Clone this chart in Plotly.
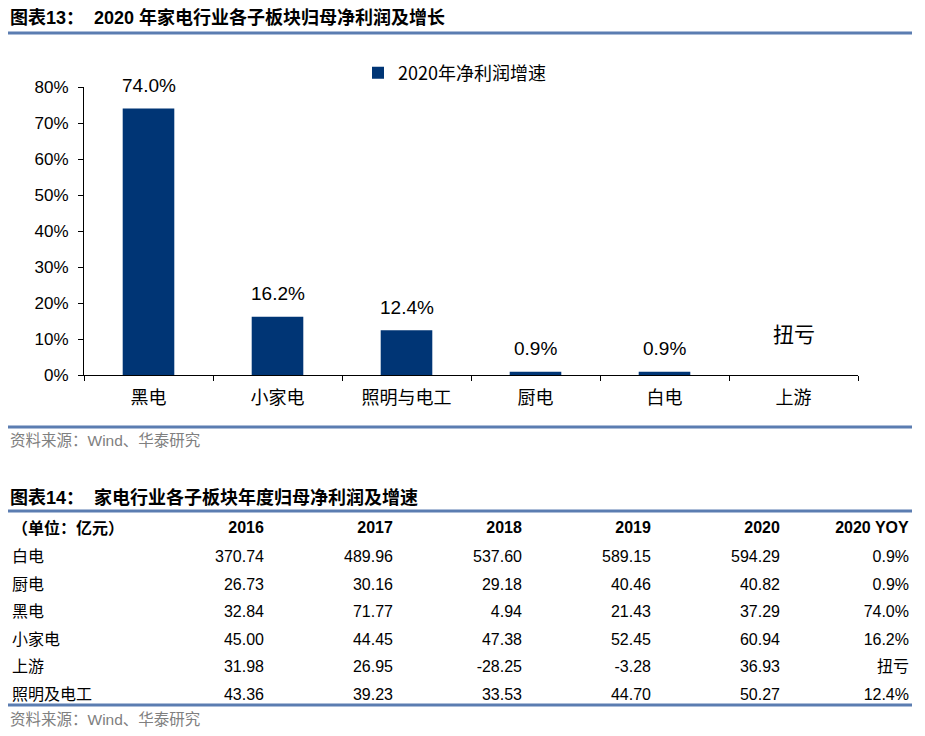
import plotly.graph_objects as go

# ---- Chart data ----
categories = ["黑电", "小家电", "照明与电工", "厨电", "白电", "上游"]
growth_2020 = [74.0, 16.2, 12.4, 0.9, 0.9, None]
series_name = "2020年净利润增速"
turnaround_label = "扭亏"
turnaround_category = "上游"
y_ticks = [0, 10, 20, 30, 40, 50, 60, 70, 80]

# ---- Table data ----
table_header = ["（单位：亿元）", "2016", "2017", "2018", "2019", "2020", "2020 YOY"]
segments = ["白电", "厨电", "黑电", "小家电", "上游", "照明及电工"]
v2016 = [370.74, 26.73, 32.84, 45.00, 31.98, 43.36]
v2017 = [489.96, 30.16, 71.77, 44.45, 26.95, 39.23]
v2018 = [537.60, 29.18, 4.94, 47.38, -28.25, 33.53]
v2019 = [589.15, 40.46, 21.43, 52.45, -3.28, 44.70]
v2020 = [594.29, 40.82, 37.29, 60.94, 36.93, 50.27]
yoy_2020 = ["0.9%", "0.9%", "74.0%", "16.2%", "扭亏", "12.4%"]

title1 = "图表13：  2020 年家电行业各子板块归母净利润及增长"
title2 = "图表14：  家电行业各子板块年度归母净利润及增速"
source = "资料来源：Wind、华泰研究"

W, H = 925, 736
BAR = "#003575"
RULE = "#5B7DB1"
FONT = "Liberation Sans, Arial, Noto Sans CJK SC, sans-serif"
CJK = "Noto Sans CJK SC, Liberation Sans, sans-serif"
CLEAR = "rgba(0,0,0,0)"


def py(px):
    return 1 - px / H


def pxx(px):
    return px / W


fig = go.Figure()

fig.add_trace(go.Bar(
    x=categories, y=growth_2020, name=series_name,
    marker=dict(color=BAR, line=dict(width=0)),
    width=0.4, showlegend=True,
))

# value labels above bars
for c, v in zip(categories, growth_2020):
    if v is None:
        continue
    fig.add_annotation(
        x=c, y=v, xref="x", yref="y", text=f"{v:.1f}%", showarrow=False,
        yanchor="middle", yshift=23,
        font=dict(size=19, family=FONT, color="#000000"),
    )

# turnaround label for the category without a bar
fig.add_annotation(
    x=turnaround_category, y=0, xref="x", yref="y",
    text=turnaround_label, showarrow=False, yanchor="middle",
    yshift=42, font=dict(size=21, family=CJK, color="#000000"),
)

# ---- table (header row and body drawn as two borderless tables) ----
fmt = lambda arr: [f"{v:.2f}" for v in arr]
body_cols = [segments, fmt(v2016), fmt(v2017), fmt(v2018), fmt(v2019), fmt(v2020), yoy_2020]
col_w = [139, 129, 129, 129, 129, 129, 129]
aligns = ["left"] + ["right"] * 6

fig.add_trace(go.Table(
    domain=dict(x=[pxx(4), pxx(917)], y=[py(550), py(495)]),
    columnwidth=col_w,
    header=dict(values=[], height=0, fill_color=CLEAR, line_color=CLEAR),
    cells=dict(
        values=[[f"<b>{h}</b>"] for h in table_header],
        align=aligns, font=dict(size=16, color="#000000", family=FONT),
        fill_color=CLEAR, line_color=CLEAR, height=27.5,
    ),
))
fig.add_trace(go.Table(
    domain=dict(x=[pxx(4), pxx(917)], y=[py(732), py(526)]),
    columnwidth=col_w,
    header=dict(values=[], height=0, fill_color=CLEAR, line_color=CLEAR),
    cells=dict(
        values=body_cols,
        align=aligns, font=dict(size=16, color="#000000", family=FONT),
        fill_color=CLEAR, line_color=CLEAR, height=27.5,
    ),
))

fig.update_layout(
    width=W, height=H,
    margin=dict(l=0, r=0, t=0, b=0, pad=0, autoexpand=False),
    paper_bgcolor="white", plot_bgcolor="white",
    font=dict(family=FONT, color="#000000"),
    showlegend=True,
    legend=dict(
        x=pxx(358), y=py(73), xanchor="left", yanchor="middle",
        font=dict(size=18, family=CJK, color="#000000"),
        bgcolor=CLEAR, itemwidth=30,
    ),
    xaxis=dict(
        domain=[pxx(84), pxx(858)],
        anchor="y", automargin=False,
        showline=True, linecolor="#000000", linewidth=1,
        ticks="outside", tickson="boundaries", ticklen=5, tickcolor="#000000",
        tickfont=dict(size=18, family=CJK, color="#000000"),
        ticklabelstandoff=6,
        showgrid=False, zeroline=False,
    ),
    yaxis=dict(
        domain=[py(375), py(87)], automargin=False,
        range=[0, 80], tickmode="array", tickvals=y_ticks,
        ticktext=[f"{t}%" for t in y_ticks],
        showline=True, linecolor="#000000", linewidth=1,
        ticks="outside", ticklen=5, tickcolor="#000000",
        tickfont=dict(size=17, family=FONT, color="#000000"),
        ticklabelstandoff=6,
        showgrid=False, zeroline=False,
    ),
)

# Titles and sources
for txt, ypx in [(title1, 17), (title2, 498)]:
    fig.add_annotation(
        x=pxx(8), y=py(ypx), xref="paper", yref="paper",
        xanchor="left", yanchor="middle", showarrow=False,
        text=f"<b>{txt}</b>", font=dict(size=18, family=FONT, color="#000000"),
    )
for ypx in [440, 719]:
    fig.add_annotation(
        x=pxx(8), y=py(ypx), xref="paper", yref="paper",
        xanchor="left", yanchor="middle", showarrow=False,
        text=source, font=dict(size=15.5, family=FONT, color="#808080"),
    )

# Horizontal rules
for ypx in [33, 427, 511, 705]:
    fig.add_shape(
        type="line", xref="paper", yref="paper",
        x0=pxx(8), x1=pxx(912), y0=py(ypx), y1=py(ypx),
        line=dict(color=RULE, width=3), layer="above",
    )

fig.write_html("out.html")
